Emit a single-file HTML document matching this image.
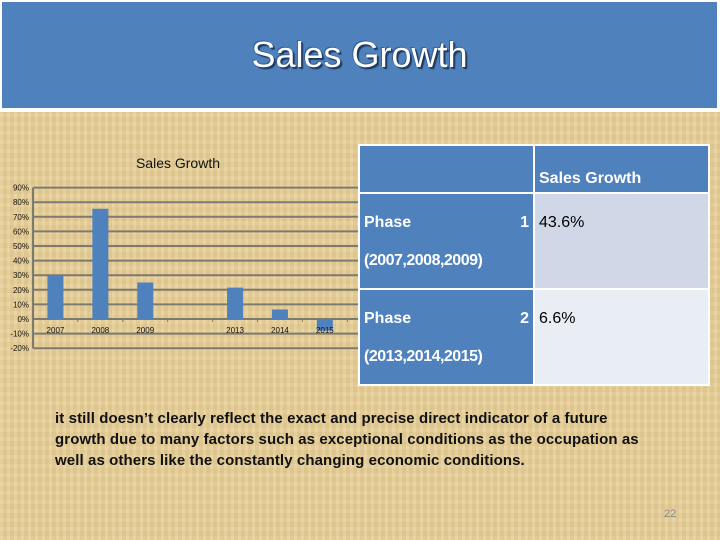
<!DOCTYPE html>
<html><head><meta charset="utf-8"><style>
body{margin:0;width:720px;height:540px;overflow:hidden;background:#e9d198;font-family:"Liberation Sans",sans-serif;position:relative}
#bg{position:absolute;left:0;top:0;width:720px;height:540px;background:repeating-linear-gradient(90deg,rgba(255,255,255,0.06) 0 3px,rgba(0,0,0,0.03) 3px 7px),repeating-linear-gradient(0deg,rgba(255,255,255,0.05) 0 4px,rgba(0,0,0,0.02) 4px 9px),#e8cf96}
#band{position:absolute;left:0;top:0;width:720px;height:112px;background:#fff}
#hdr{position:absolute;left:2px;top:2px;width:715px;height:106px;background:#4f81bd;color:#fff;text-align:center;font-size:36px;line-height:106px;text-shadow:1px 1px 0 #1f3a60,-1px -1px 0 #345f92,2px 2px 1px #1f3a60}
table{position:absolute;left:358px;top:144px;width:350px;height:242px;border-collapse:collapse;table-layout:fixed;background:#fff;font-size:16px}
td{border:2px solid #fff;padding:0 4px;vertical-align:top;overflow:hidden;white-space:nowrap}
.h{background:#4f81bd;color:#fff;font-weight:bold}
#note{position:absolute;left:55px;top:408px;font-size:15px;font-weight:bold;line-height:21px;color:#111;white-space:nowrap;letter-spacing:0.1px}
#pg{position:absolute;left:664px;top:508px;font-size:11px;color:#888}
</style></head><body>
<div id="bg"></div>
<div id="band"><div id="hdr">Sales Growth</div></div>
<svg id="chart" width="360" height="240" style="position:absolute;left:0;top:150px"></svg>
<table>
<colgroup><col style="width:175px"><col style="width:175px"></colgroup>
<tr style="height:48px"><td class="h"></td><td class="h" style="vertical-align:bottom;padding:0 0 4px 4px">Sales Growth</td></tr>
<tr style="height:96px"><td class="h"><div style="display:flex;justify-content:space-between;margin-top:20px"><span>Phase</span><span>1</span></div><div style="margin-top:20px;letter-spacing:-0.5px">(2007,2008,2009)</div></td><td style="background:#d0d8e8;padding-top:20px">43.6%</td></tr>
<tr style="height:96px"><td class="h"><div style="display:flex;justify-content:space-between;margin-top:20px"><span>Phase</span><span>2</span></div><div style="margin-top:20px;letter-spacing:-0.5px">(2013,2014,2015)</div></td><td style="background:#e9edf4;padding-top:20px">6.6%</td></tr>
</table>
<div id="note">it still doesn’t clearly reflect the exact and precise direct indicator of a future<br>growth due to many factors such as exceptional conditions as the occupation as<br>well as others like the constantly changing economic conditions.</div>
<div id="pg">22</div>
<script>
const categories=["2007","2008","2009","","2013","2014","2015"];
const values=[30,75.5,25,null,21.5,6.5,-8];
const ticks=[90,80,70,60,50,40,30,20,10,0,-10,-20];
const NS="http://www.w3.org/2000/svg";
const svg=document.getElementById('chart');
const x0=33,slot=44.9,y0=169,perTen=14.6;
const y=v=>y0-v/10*perTen;
const xc=i=>x0+slot*(i+0.5);
function mk(t,a){const e=document.createElementNS(NS,t);for(const k in a)e.setAttribute(k,a[k]);svg.appendChild(e);return e;}
const title=mk('text',{x:178,y:18,'text-anchor':'middle','font-size':14,'font-family':'Liberation Sans,sans-serif',fill:'#111'});
title.textContent='Sales Growth';


ticks.forEach(t=>{
  const l=mk('line',{x1:x0,x2:360,y1:y(t),y2:y(t),stroke:'#7d7a70','stroke-width':2});
  
  
  const tx=mk('text',{x:x0-4,y:y(t)+3,'text-anchor':'end','font-size':8,fill:'#111'});
  tx.textContent=t+'%';
  
  
});
const ax=mk('line',{x1:x0,x2:x0,y1:y(90),y2:y(-20),stroke:'#7d7a70','stroke-width':2});


for(let i=0;i<=categories.length;i++){
  const tk=mk('line',{x1:x0+slot*i,x2:x0+slot*i,y1:y(0),y2:y(0)+3,stroke:'#7d7a70'});
  
  
}
categories.forEach((c,i)=>{
  const v=values[i];
  if(v!==null){
    const b=mk('rect',{x:xc(i)-8,width:16,y:Math.min(y(v),y(0)),height:Math.abs(y(v)-y(0)),fill:'#4f81bd'});
    
    
  }
  const t=mk('text',{x:xc(i),y:y(0)+14,'text-anchor':'middle','font-size':8,fill:'#111'});
  t.textContent=c;
  
  
});
</script>
</body></html>
